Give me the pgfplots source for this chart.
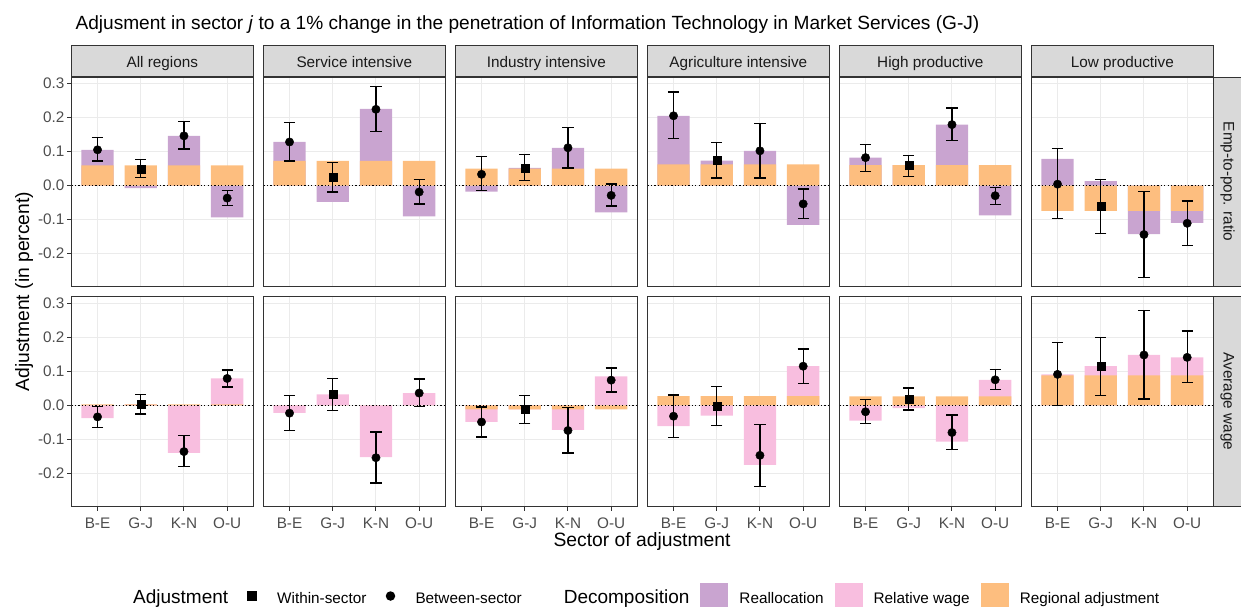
\documentclass[border=0pt]{standalone}
\usepackage{fontspec}
\setmainfont{Liberation Sans}
\usepackage{pgfplots}
\usepackage{pgfplotstable}
\pgfplotsset{compat=1.18}
\definecolor{gray10}{HTML}{1A1A1A}
\definecolor{gray20}{HTML}{333333}
\definecolor{gray30}{HTML}{4D4D4D}
\definecolor{gray85}{HTML}{D9D9D9}
\definecolor{gray92}{HTML}{EBEBEB}
\definecolor{purp}{RGB}{201,164,208}
\definecolor{pinkc}{RGB}{248,190,223}
\definecolor{orng}{RGB}{253,190,127}
\newcommand\fsT{\fontsize{15.3}{18}\selectfont}
\newcommand\fsL{\fontsize{19}{22}\selectfont}

% columns: x, O = regional adjustment, P = outer end of reallocation / relative wage bar,
% y = total adjustment, hi / lo = confidence interval
\pgfplotstableread{
x O P y hi lo
1 0.059 0.105 0.105 0.141 0.072
2 0.059 -0.008 0.049 0.077 0.024
3 0.059 0.146 0.146 0.188 0.107
4 0.059 -0.094 -0.037 -0.014 -0.059
}\tEAR
\pgfplotstableread{
x O P y hi lo
1 0.0725 0.128 0.128 0.185 0.0725
2 0.0725 -0.048 0.0235 0.067 -0.019
3 0.0725 0.225 0.224 0.291 0.158
4 0.0725 -0.091 -0.019 0.018 -0.054
}\tESI
\pgfplotstableread{
x O P y hi lo
1 0.050 -0.018 0.033 0.085 -0.015
2 0.050 0.052 0.052 0.091 0.014
3 0.050 0.111 0.111 0.171 0.052
4 0.050 -0.079 -0.029 0.004 -0.060
}\tEII
\pgfplotstableread{
x O P y hi lo
1 0.062 0.205 0.205 0.275 0.138
2 0.062 0.073 0.074 0.126 0.022
3 0.062 0.102 0.102 0.183 0.022
4 0.062 -0.116 -0.054 -0.010 -0.097
}\tEAI
\pgfplotstableread{
x O P y hi lo
1 0.060 0.082 0.082 0.121 0.042
2 0.060 0.060 0.059 0.088 0.027
3 0.060 0.179 0.179 0.228 0.132
4 0.060 -0.088 -0.030 -0.006 -0.055
}\tEHP
\pgfplotstableread{
x O P y hi lo
1 -0.0745 0.078 0.004 0.108 -0.097
2 -0.0745 0.013 -0.062 0.018 -0.141
3 -0.0745 -0.143 -0.144 -0.017 -0.270
4 -0.0745 -0.110 -0.111 -0.045 -0.176
}\tELP
\pgfplotstableread{
x O P y hi lo
1 0.003 -0.038 -0.034 -0.004 -0.065
2 0.003 0.003 0.003 0.032 -0.026
3 0.003 -0.140 -0.136 -0.089 -0.180
4 0.003 0.079 0.079 0.104 0.054
}\tWAR
\pgfplotstableread{
x O P y hi lo
1 0.0 -0.022 -0.023 0.029 -0.074
2 0.0 0.032 0.032 0.079 -0.015
3 0.0 -0.152 -0.154 -0.078 -0.228
4 0.0 0.036 0.036 0.077 -0.003
}\tWSI
\pgfplotstableread{
x O P y hi lo
1 -0.012 -0.049 -0.049 -0.005 -0.093
2 -0.012 -0.012 -0.012 0.029 -0.054
3 -0.012 -0.072 -0.074 -0.007 -0.140
4 -0.012 0.085 0.074 0.110 0.039
}\tWII
\pgfplotstableread{
x O P y hi lo
1 0.027 -0.061 -0.032 0.030 -0.094
2 0.027 -0.030 -0.003 0.056 -0.060
3 0.027 -0.175 -0.147 -0.056 -0.238
4 0.027 0.115 0.115 0.165 0.065
}\tWAI
\pgfplotstableread{
x O P y hi lo
1 0.026 -0.045 -0.019 0.017 -0.054
2 0.026 -0.008 0.019 0.051 -0.014
3 0.026 -0.107 -0.080 -0.029 -0.129
4 0.026 0.075 0.075 0.106 0.047
}\tWHP
\pgfplotstableread{
x O P y hi lo
1 0.088 0.091 0.091 0.185 0.000
2 0.088 0.115 0.115 0.200 0.029
3 0.088 0.148 0.148 0.279 0.019
4 0.088 0.141 0.141 0.219 0.067
}\tWLP

\pgfplotsset{
  panelbase/.style={
    scale only axis, width=181.5pt, height=209.2pt, anchor=north west,
    xmin=0.4, xmax=4.6, ymin=-0.296, ymax=0.319,
    xtick={1,2,3,4}, ytick={-0.2,-0.1,0,0.1,0.2,0.3},
    xticklabels={}, yticklabels={},
    grid=major, major grid style={draw=gray92, line width=1pt},
    axis line style={draw=gray20, line width=1pt},
    tick align=outside, major tick length=4.5pt,
    xtick pos=bottom, ytick pos=left,
    major tick style={draw=gray20, line width=1pt},
    ticklabel style={font=\fsT, text=gray30, inner sep=0pt},
    xticklabel style={anchor=north, yshift=-7pt},
    yticklabel style={anchor=east, xshift=-2.5pt},
  },
  firstcol/.style={yticklabels={-0.2,-0.1,0.0,0.1,0.2,0.3}},
  othercol/.style={ytick style={draw=none}},
  toprow/.style={xtick style={draw=none}},
  bottomrow/.style={xticklabels={B-E,G-J,K-N,O-U}},
  topstrip/.style={extra description/.append code={
    \node[anchor=south, fill=gray85, draw=gray20, line width=1pt,
      minimum width=181.5pt, minimum height=31.5pt, inner sep=0pt, text height=14pt, text depth=0pt,
      font=\fsT, text=gray10]
      at (0.5,1) {#1};}},
  rightstrip/.style={extra description/.append code={
    \node[rotate=-90, anchor=south, fill=gray85, draw=gray20, line width=1pt,
      minimum width=209.2pt, minimum height=28pt, inner sep=0pt, text height=11pt, text depth=3pt,
      font=\fsT, text=gray10]
      at (1,0.5) {#1};}},
}

% #1 left, #2 top, #3 table, #4 options, #5 colour of the second component
\newcommand{\panel}[5]{%
\begin{axis}[panelbase, at={(#1pt,-#2pt)}, #4]
\addplot[ybar, bar width=0.75, bar shift=0pt, fill=#5, draw=none] table[x=x,y=P]{#3};
\addplot[ybar, bar width=0.75, bar shift=0pt, fill=orng, draw=none] table[x=x,y=O]{#3};
\addplot[black, line width=1.1pt, dash pattern=on 1.1pt off 2.3pt] coordinates {(0.4,0) (4.6,0)};
\addplot[only marks, mark=*, mark size=4.2pt, mark options={black, fill=black},
  skip coords between index={1}{2},
  error bars/.cd, y dir=both, y explicit, error mark=|,
  error bar style={black, line width=1.2pt},
  error mark options={black, mark size=5.65pt, line width=1.4pt}]
  table[x=x, y=y, y error plus expr={\thisrow{hi}-\thisrow{y}}, y error minus expr={\thisrow{y}-\thisrow{lo}}]{#3};
\addplot[only marks, mark=square*, mark size=4pt, mark options={black, fill=black},
  restrict x to domain=1.5:2.5,
  error bars/.cd, y dir=both, y explicit, error mark=|,
  error bar style={black, line width=1.2pt},
  error mark options={black, mark size=5.65pt, line width=1.4pt}]
  table[x=x, y=y, y error plus expr={\thisrow{hi}-\thisrow{y}}, y error minus expr={\thisrow{y}-\thisrow{lo}}]{#3};
\end{axis}}

\begin{document}
\begin{tikzpicture}
\useasboundingbox (0pt,0pt) rectangle (1241pt,-606pt);
% top row: employment-to-population ratio
\panel{71.6}{77}{\tEAR}{toprow, firstcol, topstrip={All regions}}{purp}
\panel{263.6}{77}{\tESI}{toprow, othercol, topstrip={Service intensive}}{purp}
\panel{455.6}{77}{\tEII}{toprow, othercol, topstrip={Industry intensive}}{purp}
\panel{647.6}{77}{\tEAI}{toprow, othercol, topstrip={Agriculture intensive}}{purp}
\panel{839.6}{77}{\tEHP}{toprow, othercol, topstrip={High productive}}{purp}
\panel{1031.6}{77}{\tELP}{toprow, othercol, topstrip={Low productive}, rightstrip={Emp-to-pop. ratio}}{purp}
% bottom row: average wage
\panel{71.6}{296.8}{\tWAR}{bottomrow, firstcol}{pinkc}
\panel{263.6}{296.8}{\tWSI}{bottomrow, othercol}{pinkc}
\panel{455.6}{296.8}{\tWII}{bottomrow, othercol}{pinkc}
\panel{647.6}{296.8}{\tWAI}{bottomrow, othercol}{pinkc}
\panel{839.6}{296.8}{\tWHP}{bottomrow, othercol}{pinkc}
\panel{1031.6}{296.8}{\tWLP}{bottomrow, othercol, rightstrip={Average wage}}{pinkc}

% legend
\begin{axis}[hide axis, scale only axis, width=1241pt, height=606pt, at={(0pt,-606pt)}, anchor=south west,
  xmin=0, xmax=1, ymin=0, ymax=1,
  legend columns=7,
  legend style={at={(122/1241,11/606)}, anchor=west, draw=none, fill=none, inner sep=0pt,
    font=\fsT, cells={anchor=base west}, nodes={inner sep=0pt},
    /tikz/every odd column/.style={column sep=11pt},
    /tikz/every even column/.style={column sep=11pt}}]
\addlegendimage{legend image code/.code={}}
\addlegendentry{\fsL Adjustment}
\addlegendimage{legend image code/.code={\path[draw=none, fill=none] (0pt,-4pt) rectangle (27pt,20pt); \fill[black, draw=none] (8pt,2pt) rectangle (18pt,12pt);}}
\addlegendentry{Within-sector}
\addlegendimage{legend image code/.code={\path[draw=none, fill=none] (0pt,-4pt) rectangle (27pt,20pt); \fill[black, draw=none] (13pt,7pt) circle[radius=4.75pt];}}
\addlegendentry{Between-sector\rule{20pt}{0pt}}
\addlegendimage{legend image code/.code={}}
\addlegendentry{\fsL Decomposition}
\addlegendimage{legend image code/.code={\fill[purp, draw=none] (0pt,-4pt) rectangle (28pt,20pt);}}
\addlegendentry{Reallocation}
\addlegendimage{legend image code/.code={\fill[pinkc, draw=none] (0pt,-4pt) rectangle (28pt,20pt);}}
\addlegendentry{Relative wage}
\addlegendimage{legend image code/.code={\fill[orng, draw=none] (0pt,-4pt) rectangle (28pt,20pt);}}
\addlegendentry{Regional adjustment}
\end{axis}

\node[anchor=base west, font=\fontsize{19.1}{22}\selectfont] at (72pt,-29pt)
  {Adjusment in sector \textit{j} to a 1\% change in the penetration of Information Technology in Market Services (G-J)};
\node[rotate=90, anchor=base, font=\fontsize{19.3}{22}\selectfont] at (29pt,-291.5pt) {Adjustment (in percent)};
\node[anchor=base, font=\fontsize{19.3}{22}\selectfont] at (642pt,-546pt) {Sector of adjustment};
\end{tikzpicture}
\end{document}
